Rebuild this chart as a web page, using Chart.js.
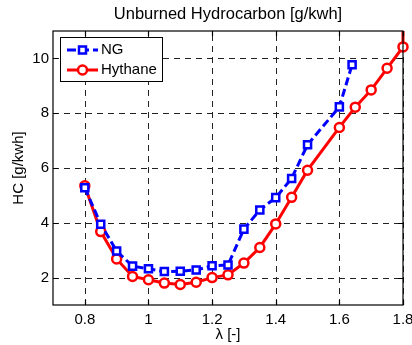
<!DOCTYPE html>
<html>
<head>
<meta charset="utf-8">
<script src="https://cdn.jsdelivr.net/npm/chart.js@4.4.1/dist/chart.umd.min.js"></script>
<style>
  body { margin: 0; background: #fff; }
  #wrap { width: 412px; height: 345px; }
</style>
</head>
<body>
<div id="wrap"><canvas id="hcChart" width="412" height="345"></canvas></div>
<script>
// lambda (air excess ratio) and HC emission for each fuel
const ngLambda = [0.8, 0.85, 0.9, 0.95, 1.0, 1.05, 1.1, 1.15, 1.2, 1.25, 1.3, 1.35, 1.4, 1.45, 1.5, 1.6, 1.64];
const ngHC     = [5.28, 3.95, 2.97, 2.42, 2.32, 2.22, 2.23, 2.28, 2.43, 2.46, 3.77, 4.47, 4.92, 5.62, 6.85, 8.23, 9.77];

// last hythane point lies above the plot (line leaves through the top edge)
const hyLambda = [0.8, 0.85, 0.9, 0.95, 1.0, 1.05, 1.1, 1.15, 1.2, 1.25, 1.3, 1.35, 1.4, 1.45, 1.5, 1.6, 1.65, 1.7, 1.75, 1.8, 1.8];
const hyHC     = [5.35, 3.68, 2.68, 2.04, 1.92, 1.8, 1.75, 1.83, 2.0, 2.1, 2.53, 3.1, 3.96, 4.93, 5.92, 7.48, 8.22, 8.85, 9.64, 10.42, 11.8];

const seriesNames = ["NG", "Hythane"];
const chartTitle = "Unburned Hydrocarbon [g/kwh]";
const xTicks = [0.8, 1.0, 1.2, 1.4, 1.6, 1.8];
const yTicks = [2, 4, 6, 8, 10];

const FONT = "'Liberation Sans', Arial, sans-serif";

function toPoints(xs, ys) {
    return xs.map((x, i) => ({ x: x, y: ys[i] }));
}

// dashed grid under the data
const gridPlugin = {
    id: "dashGrid",
    beforeDatasetsDraw(chart) {
        const ctx = chart.ctx;
        const a = chart.chartArea;
        const xs = chart.scales.x, ys = chart.scales.y;
        ctx.save();
        ctx.strokeStyle = "#222";
        ctx.lineWidth = 1;
        ctx.setLineDash([6, 5]);
        ctx.beginPath();
        xTicks.forEach(v => {
            const px = Math.round(xs.getPixelForValue(v)) + 0.5;
            ctx.moveTo(px, a.bottom); ctx.lineTo(px, a.top);
        });
        yTicks.forEach(v => {
            const py = Math.round(ys.getPixelForValue(v)) + 0.5;
            ctx.moveTo(a.left, py); ctx.lineTo(a.right, py);
        });
        ctx.stroke();
        ctx.restore();
    }
};

// box around the plot, inward tick marks, title and legend (matlab look)
const framePlugin = {
    id: "frame",
    afterDatasetsDraw(chart) {
        const ctx = chart.ctx;
        const a = chart.chartArea;
        const xs = chart.scales.x, ys = chart.scales.y;
        ctx.save();
        ctx.strokeStyle = "#000";
        ctx.lineWidth = 1.2;
        ctx.setLineDash([]);
        ctx.strokeRect(a.left, a.top, a.right - a.left, a.bottom - a.top);
        ctx.beginPath();
        xTicks.forEach(v => {
            const px = Math.round(xs.getPixelForValue(v)) + 0.5;
            ctx.moveTo(px, a.bottom); ctx.lineTo(px, a.bottom - 5);
            ctx.moveTo(px, a.top); ctx.lineTo(px, a.top + 5);
        });
        yTicks.forEach(v => {
            const py = Math.round(ys.getPixelForValue(v)) + 0.5;
            ctx.moveTo(a.left, py); ctx.lineTo(a.left + 5, py);
            ctx.moveTo(a.right, py); ctx.lineTo(a.right - 5, py);
        });
        ctx.stroke();

        // title, centred over the plot area
        ctx.fillStyle = "#000";
        ctx.font = "16.5px " + FONT;
        ctx.textAlign = "center";
        ctx.textBaseline = "middle";
        ctx.fillText(chartTitle, (a.left + a.right) / 2, 14);

        // legend box
        const lx = 60, ly = 37, lw = 102, lh = 44;
        ctx.fillStyle = "#fff";
        ctx.fillRect(lx, ly, lw, lh);
        ctx.lineWidth = 1;
        ctx.strokeRect(lx + 0.5, ly + 0.5, lw, lh);

        // NG sample
        ctx.strokeStyle = "#0000ff";
        ctx.lineWidth = 3;
        ctx.setLineDash([9, 4]);
        ctx.beginPath(); ctx.moveTo(67, 50); ctx.lineTo(98, 50); ctx.stroke();
        ctx.setLineDash([]);
        ctx.lineWidth = 2.5;
        ctx.fillStyle = "#fff";
        ctx.fillRect(79, 46.5, 7, 7);
        ctx.strokeRect(79, 46.5, 7, 7);

        // Hythane sample
        ctx.strokeStyle = "#ff0000";
        ctx.lineWidth = 3;
        ctx.beginPath(); ctx.moveTo(67, 70); ctx.lineTo(98, 70); ctx.stroke();
        ctx.lineWidth = 2.5;
        ctx.beginPath(); ctx.arc(82.5, 70, 4.5, 0, Math.PI * 2);
        ctx.fillStyle = "#fff"; ctx.fill(); ctx.stroke();

        ctx.fillStyle = "#000";
        ctx.font = "15px " + FONT;
        ctx.textBaseline = "middle";
        ctx.textAlign = "left";
        ctx.fillText(seriesNames[0], 101, 50);
        ctx.fillText(seriesNames[1], 101, 70);
        ctx.restore();
    }
};

new Chart("hcChart", {
    type: "scatter",
    data: {
        datasets: [{
            label: seriesNames[0],
            data: toPoints(ngLambda, ngHC),
            showLine: true,
            borderColor: "#0000ff",
            borderWidth: 3,
            borderDash: [8, 4],
            pointStyle: "rect",
            pointRadius: 5,
            pointBorderWidth: 2.5,
            pointBorderColor: "#0000ff",
            pointBackgroundColor: "#fff",
            clip: false
        }, {
            label: seriesNames[1],
            data: toPoints(hyLambda, hyHC),
            showLine: true,
            borderColor: "#ff0000",
            borderWidth: 3,
            pointStyle: "circle",
            pointRadius: 4.5,
            pointBorderWidth: 2.5,
            pointBorderColor: "#ff0000",
            pointBackgroundColor: "#fff",
            clip: { left: 10, top: 0, right: 10, bottom: 10 }
        }]
    },
    options: {
        responsive: false,
        animation: false,
        events: [],
        layout: { padding: { left: 0, right: 9, top: 31, bottom: 0 } },
        plugins: {
            legend: { display: false },
            tooltip: { enabled: false },
            title: { display: false }
        },
        scales: {
            x: {
                type: "linear",
                min: 0.7,
                max: 1.8,
                afterBuildTicks: s => { s.ticks = xTicks.map(v => ({ value: v })); },
                afterFit: s => { s.height = 40; s.paddingLeft = 0; s.paddingRight = 0; },
                ticks: {
                    color: "#000",
                    font: { family: FONT, size: 15 },
                    padding: 6,
                    maxRotation: 0,
                    callback: v => String(+v.toFixed(1))
                },
                grid: { display: false, drawTicks: false },
                border: { display: false },
                title: {
                    display: true,
                    text: "λ [-]",
                    color: "#000",
                    font: { family: FONT, size: 15 },
                    padding: { top: 0, bottom: 1 }
                }
            },
            y: {
                type: "linear",
                min: 1,
                max: 11,
                afterBuildTicks: s => { s.ticks = yTicks.map(v => ({ value: v })); },
                afterFit: s => { s.width = 53; s.paddingTop = 0; s.paddingBottom = 0; },
                ticks: {
                    color: "#000",
                    font: { family: FONT, size: 15 },
                    padding: 4
                },
                grid: { display: false, drawTicks: false },
                border: { display: false },
                title: {
                    display: true,
                    text: "HC [g/kwh]",
                    color: "#000",
                    font: { family: FONT, size: 15 },
                    padding: { top: 10, bottom: 0 }
                }
            }
        }
    },
    plugins: [gridPlugin, framePlugin]
});
</script>
</body>
</html>
